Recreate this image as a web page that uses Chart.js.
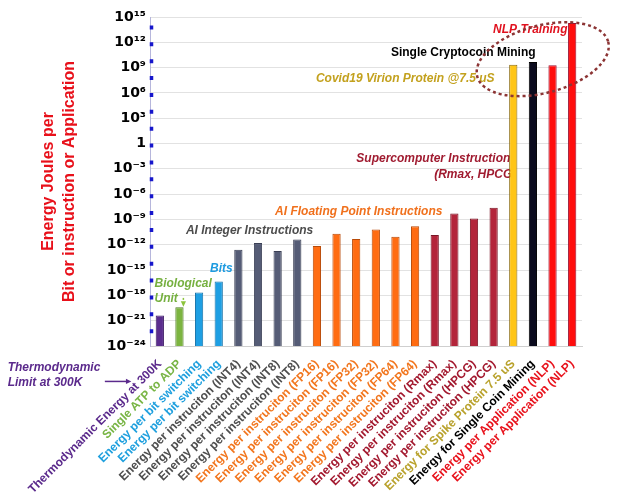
<!DOCTYPE html>
<html>
<head>
<meta charset="utf-8">
<title>Energy per bit, instruction or application</title>
<script src="https://cdn.jsdelivr.net/npm/chart.js@4.4.0/dist/chart.umd.min.js"></script>
<style>
  html, body { margin: 0; padding: 0; background: #fff; }
  #wrap { width: 617px; height: 500px; position: relative; }
</style>
</head>
<body>
<div id="wrap"><canvas id="energyChart"></canvas></div>
<script>
// x axis categories (spelling kept as in the source figure)
const categories = [
  'Thermodynamic Energy at 300K',
  'Single ATP to ADP',
  'Energy per bit switching',
  'Energy per bit switching',
  'Energy per instruciton (INT4)',
  'Energy per instruciton (INT4)',
  'Energy per instruciton (INT8)',
  'Energy per instruciton (INT8)',
  'Energy per instruciton (FP16)',
  'Energy per instruciton (FP16)',
  'Energy per instruciton (FP32)',
  'Energy per instruciton (FP32)',
  'Energy per instruciton (FP64)',
  'Energy per instruciton (FP64)',
  'Energy per instruciton (Rmax)',
  'Energy per instruciton (Rmax)',
  'Energy per instruciton (HPCG)',
  'Energy per instruciton (HPCG)',
  'Energy for Spike Protein 7.5 uS',
  'Energy for Single Coin Mining',
  'Energy per Application (NLP)',
  'Energy per Application (NLP)'
];

// energy in joules
const energyJoules = [
  4.1e-21, 4e-20, 2.2e-18, 4.5e-17,
  2.5e-13, 1.6e-12, 1.8e-13, 4.3e-12,
  7e-13, 2e-11, 4.7e-12, 6.3e-11, 9e-12, 1.6e-10,
  1.4e-11, 5e-9, 1.3e-9, 2.5e-8,
  2.2e9, 4.6e9, 1.9e9, 2e14
];

// y axis ticks, every three decades
const tickValues = [1e15, 1e12, 1e9, 1e6, 1e3, 1, 1e-3, 1e-6, 1e-9, 1e-12, 1e-15, 1e-18, 1e-21, 1e-24];
const tickLabels = ['10¹⁵', '10¹²', '10⁹', '10⁶', '10³', '1', '10⁻³', '10⁻⁶', '10⁻⁹', '10⁻¹²', '10⁻¹⁵', '10⁻¹⁸', '10⁻²¹', '10⁻²⁴'];

// group colours
const PURPLE = '#5b2d8e', GREEN = '#7cb440', BLUE = '#1e9fe3', SLATE = '#555c76',
      ORANGE = '#ff6c12', CRIMSON = '#b3253b', YELLOW = '#ffc517', BLACK = '#0b0b1e', RED = '#ff0d0d';

const barColors = [PURPLE, GREEN, BLUE, BLUE, SLATE, SLATE, SLATE, SLATE,
  ORANGE, ORANGE, ORANGE, ORANGE, ORANGE, ORANGE, CRIMSON, CRIMSON, CRIMSON, CRIMSON,
  YELLOW, BLACK, RED, RED];
const barBorders = ['#3a1763', '#4f7d22', '#1672a8', '#1672a8', '#3a3f55', '#3a3f55', '#3a3f55', '#3a3f55',
  '#b84a08', '#b84a08', '#b84a08', '#b84a08', '#b84a08', '#b84a08', '#7a1626', '#7a1626', '#7a1626', '#7a1626',
  '#8a6a10', '#000000', '#9a1030', '#9a1030'];
const labelColors = ['#5b2a8c', '#79b545', '#20a0de', '#20a0de', '#4e4e4e', '#4e4e4e', '#4e4e4e', '#4e4e4e',
  '#f2761e', '#f2761e', '#f2761e', '#f2761e', '#f2761e', '#f2761e', '#a3192f', '#a3192f', '#a3192f', '#a3192f',
  '#b9a22c', '#000000', '#e8121c', '#e8121c'];

// text notes placed with the scales: at = [category index, decade exponent]
const notes = [
  { lines: ['NLP Training'], color: '#e0121f', at: [16.97, 13.5], align: 'left' },
  { lines: ['Single Cryptocoin Mining'], color: '#000', at: [11.77, 10.8], align: 'left', upright: true },
  { lines: ['Covid19 Virion Protein @7.5 uS'], color: '#c3a11e', at: [7.95, 7.7], align: 'left' },
  { lines: ['Supercomputer Instruction'], color: '#a01b30', at: [17.85, -1.75], align: 'right' },
  { lines: ['(Rmax, HPCG)'], color: '#a01b30', at: [18.15, -3.65], align: 'right' },
  { lines: ['AI Floating Point Instructions'], color: '#f0701c', at: [5.87, -8.05], align: 'left' },
  { lines: ['AI Integer Instructions'], color: '#4c4c4c', at: [1.33, -10.3], align: 'left' },
  { lines: ['Bits'], color: '#1e9be0', at: [2.56, -14.8], align: 'left' },
  { lines: ['Biological', 'Unit'], color: '#76b040', at: [-0.27, -16.6], align: 'left' },
  { lines: ['Thermodynamic', 'Limit at 300K'], color: '#5b2a8c', at: [-7.75, -26.6], align: 'left' }
];

function arrow(ctx, x1, y1, x2, y2, color, dash) {
  const a = Math.atan2(y2 - y1, x2 - x1);
  ctx.save();
  ctx.strokeStyle = color;
  ctx.fillStyle = color;
  ctx.lineWidth = 1.5;
  ctx.setLineDash(dash || []);
  ctx.beginPath();
  ctx.moveTo(x1, y1);
  ctx.lineTo(x2 - 4 * Math.cos(a), y2 - 4 * Math.sin(a));
  ctx.stroke();
  ctx.setLineDash([]);
  ctx.beginPath();
  ctx.moveTo(x2, y2);
  ctx.lineTo(x2 - 6 * Math.cos(a - 0.45), y2 - 6 * Math.sin(a - 0.45));
  ctx.lineTo(x2 - 6 * Math.cos(a + 0.45), y2 - 6 * Math.sin(a + 0.45));
  ctx.closePath();
  ctx.fill();
  ctx.restore();
}

// notes go under the bars, so the yellow bar hides the end of "(Rmax, HPCG)"
const notesPlugin = {
  id: 'notes',
  beforeDatasetsDraw(chart) {
    const { ctx, scales: { x, y } } = chart;
    ctx.save();
    notes.forEach(n => {
      ctx.font = (n.upright ? '' : 'italic ') + 'bold 12px "Liberation Sans", Arial, sans-serif';
      ctx.fillStyle = n.color;
      ctx.textAlign = n.align;
      ctx.textBaseline = 'middle';
      const px = x.getPixelForValue(n.at[0]);
      const py = y.getPixelForValue(Math.pow(10, n.at[1]));
      n.lines.forEach((line, i) => ctx.fillText(line, px, py + i * 15));
    });
    ctx.restore();

    // small pointers
    const unitY = y.getPixelForValue(Math.pow(10, -18.3));
    arrow(ctx, x.getPixelForValue(1.2), unitY, x.getPixelForValue(1.2), y.getPixelForValue(Math.pow(10, -19.35)), '#8cc43c', [2, 2]);
    const limY = y.getPixelForValue(Math.pow(10, -28.2));
    arrow(ctx, x.getPixelForValue(-2.8), limY, x.getPixelForValue(-1.45), limY, '#5b2a8c');
  },
  afterDraw(chart) {
    const { ctx, chartArea, scales: { x, y } } = chart;
    // blue dashed marks along the y axis
    const step = y.getPixelForValue(1e-2) - y.getPixelForValue(1);
    ctx.save();
    ctx.strokeStyle = '#1616cc';
    ctx.lineWidth = 3.5;
    ctx.setLineDash([4, step - 4]);
    ctx.beginPath();
    ctx.moveTo(chartArea.left + 1.5, y.getPixelForValue(1e14));
    ctx.lineTo(chartArea.left + 1.5, chartArea.bottom);
    ctx.stroke();

    // dotted ellipse around the largest consumers
    ctx.strokeStyle = '#8c3434';
    ctx.lineWidth = 2.5;
    ctx.setLineDash([3, 3]);
    const cx = x.getPixelForValue(19.5);
    const cy = y.getPixelForValue(1e10);
    const rx = x.getPixelForValue(3.45) - x.getPixelForValue(0);
    const ry = y.getPixelForValue(1e-4) - y.getPixelForValue(1);
    ctx.beginPath();
    ctx.ellipse(cx, cy, rx, ry, -0.26, 0, Math.PI * 2);
    ctx.stroke();
    ctx.restore();
  }
};

new Chart(document.getElementById('energyChart'), {
  type: 'bar',
  data: {
    labels: categories,
    datasets: [{
      label: 'Energy (J)',
      data: energyJoules,
      backgroundColor: barColors,
      borderColor: barBorders,
      borderWidth: 1,
      barPercentage: 0.42,
      categoryPercentage: 1
    }]
  },
  options: {
    responsive: true,
    maintainAspectRatio: false,
    animation: false,
    layout: { padding: { left: 32, right: 35, top: 17, bottom: 0 } },
    plugins: {
      legend: { display: false },
      tooltip: { enabled: false }
    },
    scales: {
      x: {
        grid: { display: false, drawTicks: false },
        border: { color: '#cfcfcf' },
        afterFit(scale) { scale.height = 154; },
        ticks: {
          autoSkip: false,
          minRotation: 45,
          maxRotation: 45,
          padding: 11,
          color: (c) => labelColors[c.index],
          font: { family: '"Liberation Sans", Arial, sans-serif', size: 12, weight: 'bold' }
        }
      },
      y: {
        type: 'logarithmic',
        min: 1e-24,
        max: 1e15,
        afterBuildTicks(scale) {
          scale.ticks = tickValues.map(v => ({ value: v }));
        },
        afterFit(scale) { scale.width = 118; },
        grid: { color: '#e2e2e2', drawTicks: false },
        border: { color: '#b6b6dc' },
        title: {
          display: true,
          text: ['Energy Joules per', 'Bit or instruction or Application'],
          color: '#e8101a',
          padding: { top: 6, bottom: 0 },
          font: { family: '"Liberation Sans", Arial, sans-serif', size: 16, weight: 'bold', lineHeight: 1.3 }
        },
        ticks: {
          padding: 4,
          color: '#000',
          callback: (v, i) => tickLabels[i],
          font: { family: '"DejaVu Sans", sans-serif', size: 14, weight: 'bold' }
        }
      }
    }
  },
  plugins: [notesPlugin]
});
</script>
</body>
</html>
